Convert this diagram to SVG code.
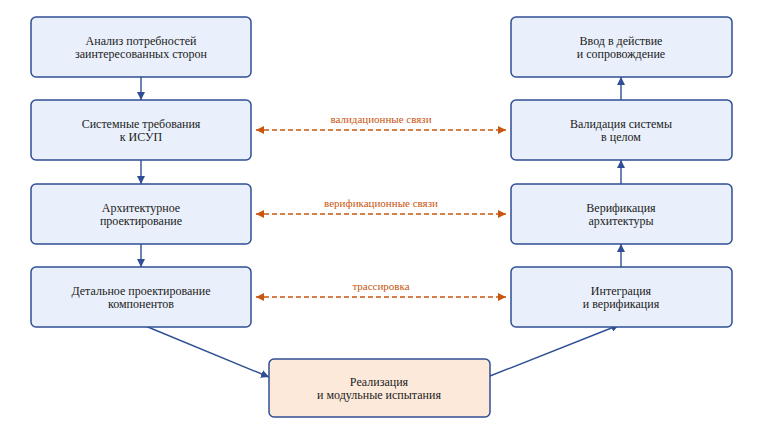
<svg xmlns="http://www.w3.org/2000/svg" width="763" height="428" viewBox="0 0 763 428">
<defs>
<style>
.box{fill:#e9f0fb;stroke:#2f4f95;stroke-width:1.5}
.impl{fill:#fde9d9;stroke:#2f4f95;stroke-width:1.5}
.t{font-size:12px;fill:#222;text-anchor:middle}
.lbl{font-size:11px;fill:#c8560f;text-anchor:middle}
.flow{stroke:#2f4f95;stroke-width:1.4;fill:none;marker-end:url(#ab)}
.dash{stroke:#c8560f;stroke-width:1.4;fill:none;stroke-dasharray:5,3;marker-end:url(#ao);marker-start:url(#aos)}
</style>
<marker id="ab" markerWidth="8" markerHeight="8" viewBox="0 0 8 8" refX="8" refY="4" orient="auto" markerUnits="userSpaceOnUse"><path d="M0,0 L8,4 L0,8 Z" fill="#2f4f95"/></marker>
<marker id="ao" markerWidth="8" markerHeight="8" viewBox="0 0 8 8" refX="8" refY="4" orient="auto" markerUnits="userSpaceOnUse"><path d="M0,0 L8,4 L0,8 Z" fill="#c8560f"/></marker>
<marker id="aos" markerWidth="8" markerHeight="8" viewBox="0 0 8 8" refX="0" refY="4" orient="auto" markerUnits="userSpaceOnUse"><path d="M8,0 L0,4 L8,8 Z" fill="#c8560f"/></marker>
</defs>
<rect width="763" height="428" fill="#fff"/>
<g font-family="Liberation Serif, Times New Roman, DejaVu Serif, serif">
<g id="connectors">
<line class="flow" x1="141" y1="77" x2="141" y2="100"/>
<line class="flow" x1="141" y1="160" x2="141" y2="184"/>
<line class="flow" x1="141" y1="244" x2="141" y2="267"/>
<line class="flow" x1="143" y1="325" x2="269" y2="377"/>
<line class="flow" x1="490" y1="376" x2="619" y2="325"/>
<line class="flow" x1="621" y1="267" x2="621" y2="244"/>
<line class="flow" x1="621" y1="184" x2="621" y2="160"/>
<line class="flow" x1="621" y1="100" x2="621" y2="77"/>
<line class="dash" x1="256" y1="130" x2="506" y2="130"/>
<line class="dash" x1="256" y1="214" x2="506" y2="214"/>
<line class="dash" x1="256" y1="297" x2="506" y2="297"/>
<text class="lbl" x="381" y="123">валидационные связи</text>
<text class="lbl" x="381" y="207">верификационные связи</text>
<text class="lbl" x="381" y="290">трассировка</text>
</g>
<g id="n1"><rect class="box" x="31" y="17" width="220" height="60" rx="5"/><text class="t" x="141" y="45">Анализ потребностей</text><text class="t" x="141" y="58">заинтересованных сторон</text></g>
<g id="n2"><rect class="box" x="31" y="100" width="220" height="60" rx="5"/><text class="t" x="141" y="128">Системные требования</text><text class="t" x="141" y="141">к ИСУП</text></g>
<g id="n3"><rect class="box" x="31" y="184" width="220" height="60" rx="5"/><text class="t" x="141" y="212">Архитектурное</text><text class="t" x="141" y="225">проектирование</text></g>
<g id="n4"><rect class="box" x="31" y="267" width="220" height="60" rx="5"/><text class="t" x="141" y="295">Детальное проектирование</text><text class="t" x="141" y="308">компонентов</text></g>
<g id="n5"><rect class="impl" x="269" y="359" width="221" height="58" rx="5"/><text class="t" x="379" y="386">Реализация</text><text class="t" x="379" y="399">и модульные испытания</text></g>
<g id="n6"><rect class="box" x="511" y="267" width="221" height="60" rx="5"/><text class="t" x="621" y="295">Интеграция</text><text class="t" x="621" y="308">и верификация</text></g>
<g id="n7"><rect class="box" x="511" y="184" width="221" height="60" rx="5"/><text class="t" x="621" y="212">Верификация</text><text class="t" x="621" y="225">архитектуры</text></g>
<g id="n8"><rect class="box" x="511" y="100" width="221" height="60" rx="5"/><text class="t" x="621" y="128">Валидация системы</text><text class="t" x="621" y="141">в целом</text></g>
<g id="n9"><rect class="box" x="511" y="17" width="221" height="60" rx="5"/><text class="t" x="621" y="45">Ввод в действие</text><text class="t" x="621" y="58">и сопровождение</text></g>
</g>
</svg>
